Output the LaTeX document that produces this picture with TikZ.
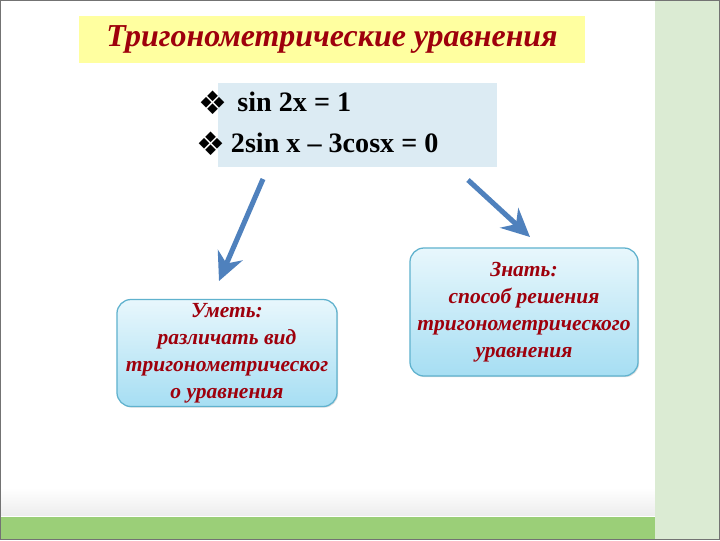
\documentclass[tikz,border=0pt]{standalone}
\usepackage{fontspec}
\setmainfont{Liberation Serif}
\newfontfamily\bulletfont{DejaVu Sans}
\usetikzlibrary{arrows.meta,shadows}
\definecolor{titlered}{RGB}{158,0,12}
\definecolor{titleyellow}{RGB}{255,255,160}
\definecolor{eqblue}{RGB}{220,235,243}
\definecolor{arrowblue}{RGB}{79,129,189}
\definecolor{boxtop}{RGB}{232,247,252}
\definecolor{boxbottom}{RGB}{166,222,243}
\definecolor{boxedge}{RGB}{96,178,206}
\definecolor{sidegreen}{RGB}{219,235,211}
\definecolor{bargreen}{RGB}{155,207,120}
\begin{document}
\begin{tikzpicture}[x=0.025cm,y=-0.025cm,
    goalbox/.style={draw=boxedge,line width=0.9pt,rounded corners=10pt,
      top color=boxtop,bottom color=boxbottom,
      drop shadow={opacity=0.25,shadow xshift=0.8pt,shadow yshift=-0.8pt},
      text=titlered,align=center,inner sep=0pt,
      font=\fontsize{15.3}{19.3}\selectfont\bfseries\itshape},
    eqline/.style={anchor=west,font=\fontsize{20}{22}\selectfont\bfseries},
    diamondmark/.style={font=\bulletfont\fontsize{23}{23}\selectfont},
    bigarrow/.style={arrowblue,line width=3.6pt,-{Stealth[length=20pt,width=19pt]}}]
        \useasboundingbox (0,0) rectangle (720,540);
        % slide background
        \fill[white] (0,0) rectangle (720,540);
        \shade[top color=white,bottom color=black!7] (0,488) rectangle (655,515);
        \fill[bargreen] (0,517) rectangle (655,540);
        \fill[sidegreen] (655,0) rectangle (720,540);
        \draw[black!55,line width=0.6pt] (0.5,0.5) rectangle (719.5,539.5);
        % title
        \node[fill=titleyellow,minimum width=12.65cm,minimum height=1.175cm,
          text=titlered,font=\fontsize{22.7}{28}\selectfont\bfseries\itshape] (title) at (332,39.5) {Тригонометрические уравнения};
        % equations
        \node[fill=eqblue,minimum width=6.975cm,minimum height=2.1cm] (eq) at (357.5,125) {};
        \node[eqline] (eq1) at (232.5,102) {sin 2x = 1};
        \node[eqline] (eq2) at (226,143) {2sin x -- 3cosx = 0};
        \node[diamondmark] (d1) at (213,103) {❖};
        \node[diamondmark] (d2) at (211,144) {❖};
        % goals
        \node[goalbox,minimum width=5.5cm,minimum height=2.675cm] (skill) at (227,353)
          {Уметь:\\различать вид\\тригонометрическог\\о уравнения};
        \node[goalbox,minimum width=5.7cm,minimum height=3.2cm] (know) at (524,312)
          {Знать:\\способ решения\\тригонометрического\\уравнения};
        % arrows
        \coordinate (l1) at (263,179);
        \coordinate (l2) at (219,281);
        \coordinate (r1) at (468,180);
        \coordinate (r2) at (530,237);
        \draw[bigarrow] (l1) -- (l2);
        \draw[bigarrow] (r1) -- (r2);
\end{tikzpicture}
\end{document}
